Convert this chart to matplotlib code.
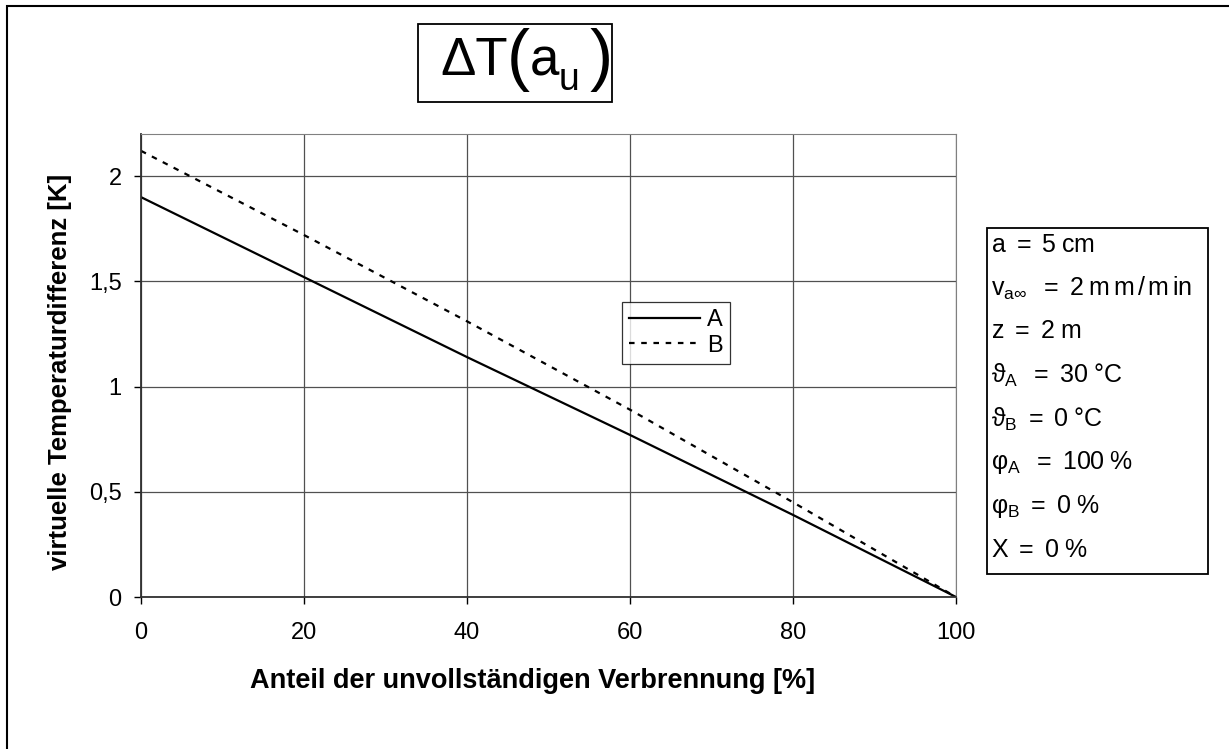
import matplotlib
matplotlib.use("Agg")
import matplotlib.pyplot as plt
from matplotlib.patches import Rectangle

plt.rcParams['font.family'] = ['Liberation Sans', 'DejaVu Sans']
plt.rcParams['mathtext.fontset'] = 'custom'
plt.rcParams['mathtext.rm'] = 'Liberation Sans'
plt.rcParams['mathtext.it'] = 'Liberation Sans'
plt.rcParams['mathtext.bf'] = 'Liberation Sans:bold'

# data
anteil = [0, 20, 40, 60, 80, 100]
dT_A = [1.90, 1.52, 1.14, 0.77, 0.39, 0.0]
dT_B = [2.12, 1.72, 1.31, 0.89, 0.45, 0.0]
xticks = [0, 20, 40, 60, 80, 100]
yticks = [0, 0.5, 1, 1.5, 2]
ytick_labels = ["0", "0,5", "1", "1,5", "2"]
params = [
	r"$\mathrm{a}\ =\ 5\;\mathrm{cm}$",
	r"$\mathrm{v}_{\mathrm{a}\infty}\;\ =\ 2\;\mathrm{m\,m\,/\,m\,in}$",
	r"$\mathrm{z}\ =\ 2\;\mathrm{m}$",
	r"$\vartheta_{\mathrm{A}}\;\ =\ 30\;\mathrm{°C}$",
	r"$\vartheta_{\mathrm{B}}\ =\ 0\;\mathrm{°C}$",
	r"$\varphi_{\mathrm{A}}\;\ =\ 100\;\%$",
	r"$\varphi_{\mathrm{B}}\ =\ 0\;\%$",
	r"$\mathrm{X}\ =\ 0\;\%$",
]

W, H = 1229, 749
fig = plt.figure(figsize=(W / 100, H / 100), dpi=100)
fig.patch.set_facecolor("white")

def fx(px):
	return px / W

def fy(py):
	return 1 - py / H

# outer frame (right and bottom edge lie outside the picture)
fig.add_artist(Rectangle((fx(7), fy(760)), fx(1240 - 7), (760 - 6) / H, transform=fig.transFigure,
	fill=False, edgecolor="black", linewidth=1.5, clip_on=False))

ax = fig.add_axes([fx(141), fy(597), (956 - 141) / W, (597 - 134) / H])
ax.plot(anteil, dT_A, color="black", linewidth=1.6, label="A")
ax.plot(anteil, dT_B, color="black", linewidth=1.6, linestyle=(0, (2.5, 3)), label="B")

ax.set_xlim(0, 100)
ax.set_ylim(0, 2.2)
ax.set_xticks(xticks)
ax.set_yticks(yticks)
ax.set_yticklabels(ytick_labels)
ax.tick_params(labelsize=17, direction="out", length=5, width=1, color="black")
ax.tick_params(axis="x", pad=13)
ax.tick_params(axis="y", pad=9)
ax.grid(True, color="#505050", linewidth=0.9)
ax.set_axisbelow(True)
for s in ["top", "right"]:
	ax.spines[s].set_color("#808080")
for s in ["left", "bottom"]:
	ax.spines[s].set_color("#303030")
	ax.spines[s].set_linewidth(1.3)

ax.set_xlabel("Anteil der unvollständigen Verbrennung [%]", fontsize=19.5, fontweight="bold")
ax.set_ylabel("virtuelle Temperaturdifferenz [K]", fontsize=18.5, fontweight="bold")
ax.xaxis.set_label_coords((533 - 141) / 815, (597 - 668) / 463)
ax.yaxis.set_label_coords((72 - 141) / 815, (597 - 372) / 463)

leg = ax.legend(loc="upper left", bbox_to_anchor=((622 - 141) / 815, (597 - 302) / 463),
	fontsize=17, frameon=True, fancybox=False, edgecolor="black", handlelength=3.0,
	handletextpad=0.3, borderpad=0.3, labelspacing=0.15, borderaxespad=0)
leg.get_frame().set_linewidth(0.9)

# title box built from separate pieces so the parentheses can be tall
fig.add_artist(Rectangle((fx(418), fy(102)), (612 - 418) / W, (102 - 24) / H,
	transform=fig.transFigure, facecolor="white", edgecolor="black", linewidth=1.3))
fig.text(fx(440), fy(75), "ΔT", fontsize=38, ha="left", va="baseline")
fig.text(fx(507), fy(78), "(", fontsize=50, ha="left", va="baseline")
fig.text(fx(530), fy(75), "a", fontsize=38, ha="left", va="baseline")
fig.text(fx(559), fy(90), "u", fontsize=27, ha="left", va="baseline")
fig.text(fx(590), fy(78), ")", fontsize=50, ha="left", va="baseline")

# parameter box
fig.add_artist(Rectangle((fx(987), fy(574)), (1208 - 987) / W, (574 - 228) / H,
	transform=fig.transFigure, fill=False, edgecolor="black", linewidth=1.3))
ys = [245, 288, 331, 375, 419, 463, 507, 550]
for y, txt in zip(ys, params):
	fig.text(fx(991), fy(y), txt, fontsize=18, ha="left", va="center")

plt.savefig("out.png", dpi=100)
